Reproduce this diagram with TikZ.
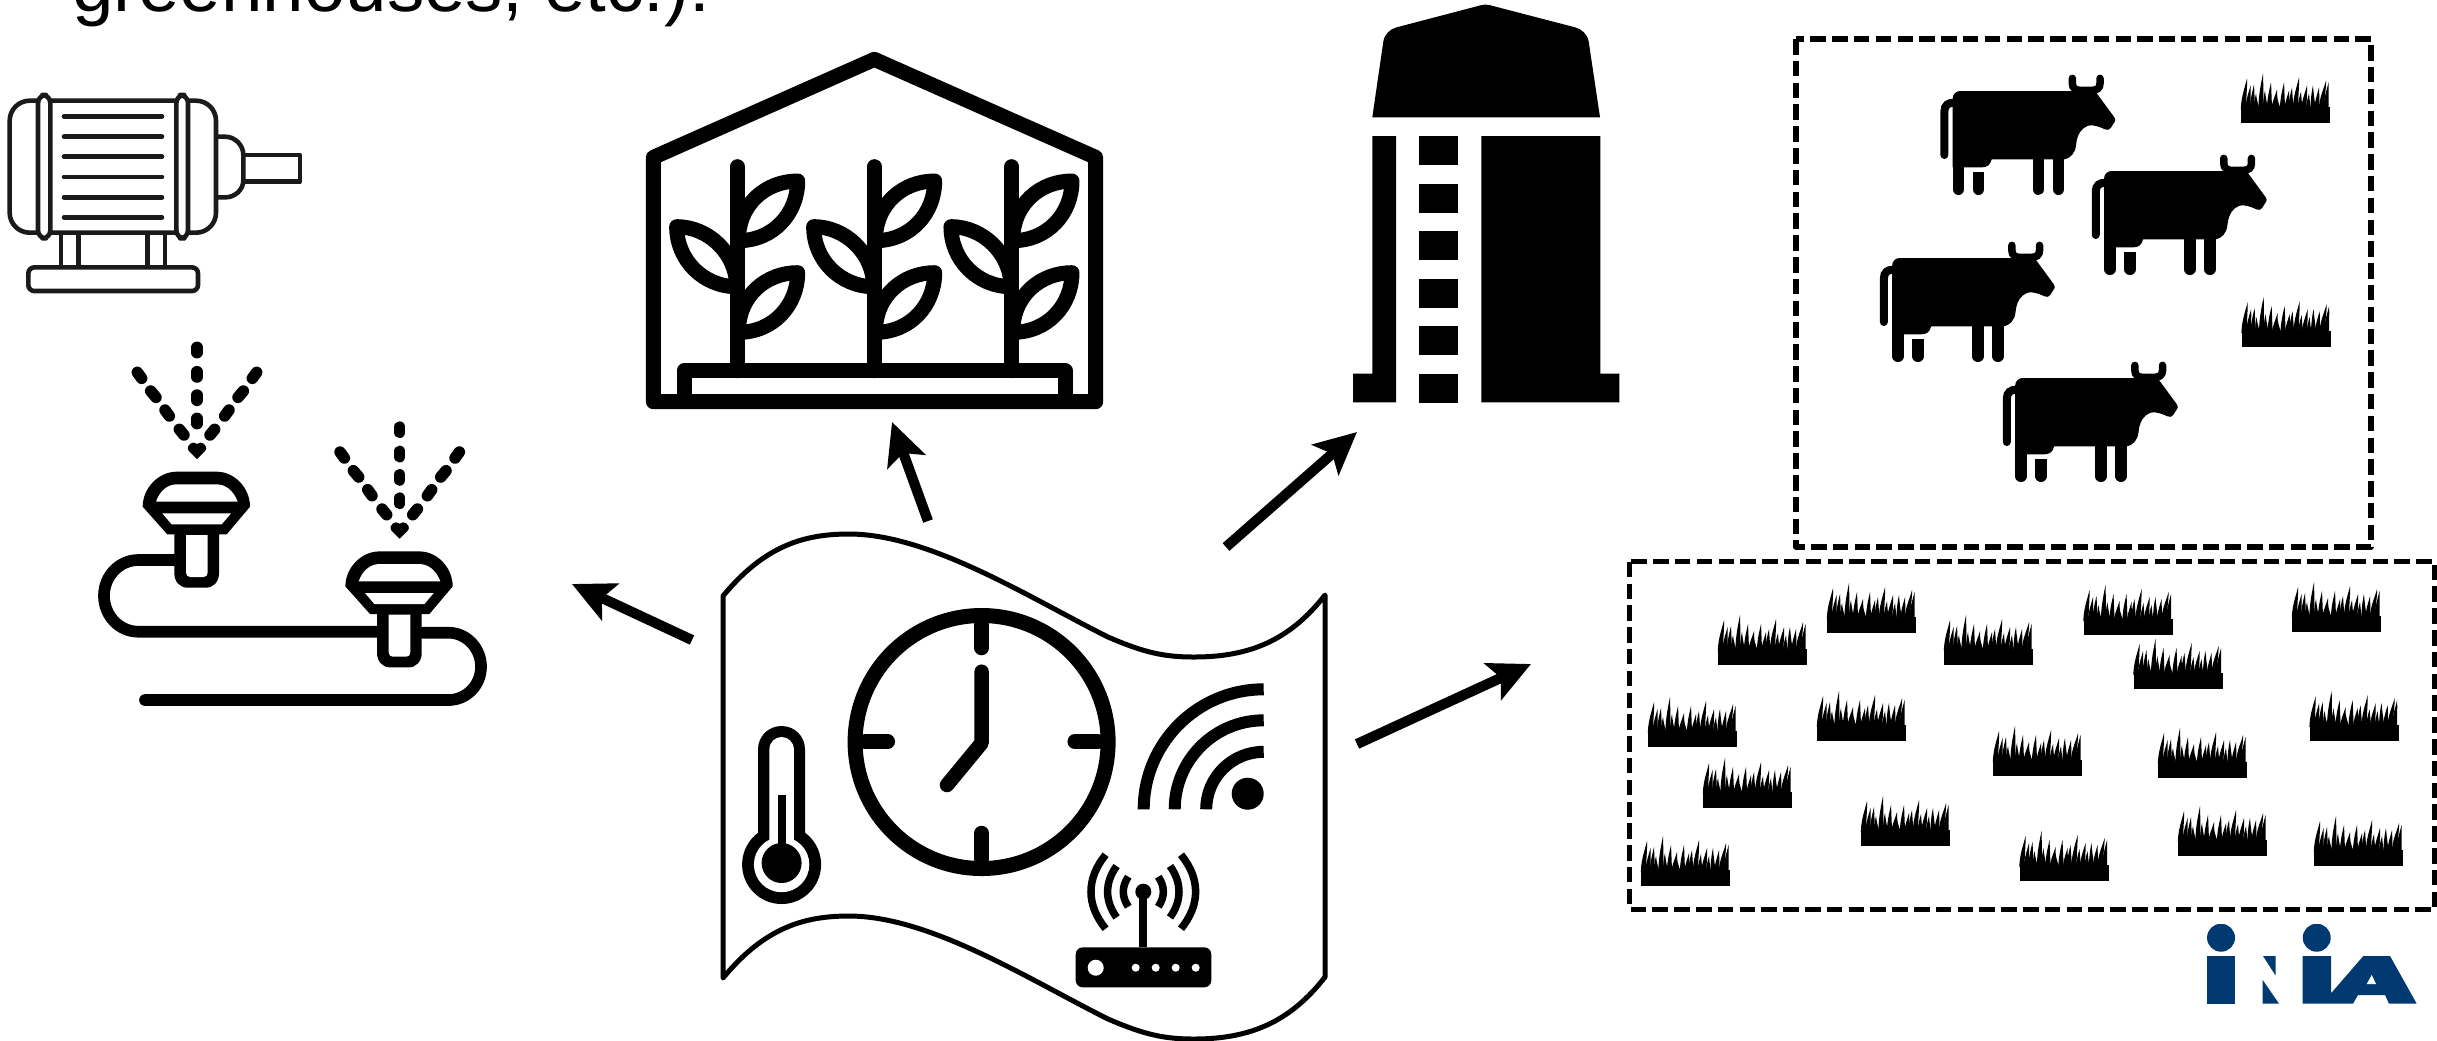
\documentclass[tikz,border=0pt]{standalone}
\usepackage{fontspec}
\setmainfont{Liberation Sans}
\usetikzlibrary{arrows.meta}
\definecolor{iniablue}{RGB}{0,58,112}
\definecolor{motorink}{RGB}{26,26,26}
\tikzset{
  flowarrow/.style={line width=1.02mm,-{Stealth[length=4.2mm,width=4mm,inset=.9mm]}},
  zonebox/.style={line width=.55mm,dash pattern=on 1.55mm off .63mm,line join=round},
  wave/.style={line width=.5mm,line join=round},
  motorline/.style={draw=motorink,line width=.46mm,line join=round},
  motorfin/.style={draw=motorink,line width=.46mm,line cap=round},
  zoomed/.style={x=.033333mm,y=-.033333mm},
  houseline/.style={line width=1.5mm,line join=round},
  stemline/.style={line width=1.5mm,line cap=round},
  dropline/.style={line width=1.15mm,line cap=round},
  hoseline/.style={line width=1.17mm,line cap=round},
  wifiarc/.style={line width=1.2mm},
  routerarc/.style={line width=.75mm},
  clockmark/.style={line width=1.45mm,line cap=round,line join=round},
}
\newcommand{\grassshape}{%
  \fill (0,0) rectangle (89,-16);
  \foreach \bx/\tx/\th in {2.5/6/45,7/9.5/38,11.5/13/39,16/15/30,20/22/50,24.5/24/33,28.5/30/41,33/36/34,37.5/36/28,41.5/43/41,46/48/33,50/51/36,54.5/58/46,59/60/32,63/66/38,67.5/68/30,72/72/38,76/78/36,80.5/85/43,85/87.5/41}{
    \fill (\bx-2.7,-14) .. controls (\bx-2.5,-.6*\th) and (\tx-1.4,-.85*\th) .. (\tx,-\th) .. controls (\tx+.4,-.8*\th) and (\bx+2.2,-.5*\th) .. (\bx+2.7,-14) -- cycle;
  }
}
\newcommand{\cowshape}{%
  \fill (158,115) .. controls (158,103) and (168,93) .. (180,93) -- (585,93) -- (643,172) .. controls (647,178) and (646,182) .. (644,185) -- (632,204) .. controls (628,210) and (622,211) .. (615,208) .. controls (590,196) and (565,190) .. (550,205) .. controls (535,218) and (530,235) .. (528,255) .. controls (526,280) and (510,295) .. (493,298) -- (275,298) .. controls (270,315) and (262,322) .. (245,322) -- (158,322) -- cycle;
  \draw[line width=1.17mm,line cap=round] (175.5,300) -- (175.5,387.5);
  \draw[line width=1.17mm,line cap=round] (415,290) -- (415,387.5);
  \draw[line width=1.17mm,line cap=round] (475.5,290) -- (475.5,387.5);
  \draw[line width=1.17mm,line cap=round] (235.5,355) -- (235.5,387.5);
  \fill (218,335) rectangle (253,360);
  \draw[line width=.75mm,line cap=round] (517,55) -- (517,70) .. controls (517,85) and (528,91) .. (540,91) -- (575,91) .. controls (590,91) and (600,85) .. (600,70) -- (600,55);
  \draw[line width=.8mm,line cap=round] (162,128) .. controls (145,128) and (133,135) .. (133,155) -- (133,285);
}
\newcommand{\sprinklerhead}{%
  \fill (188,560) .. controls (188,505) and (235,455) .. (290,455) -- (410,455) .. controls (465,455) and (510,505) .. (510,560) -- (440,643) -- (417,643) -- (417,760) .. controls (417,785) and (400,803) .. (378,803) -- (322,803) .. controls (300,803) and (283,785) .. (283,760) -- (283,643) -- (262,643) -- cycle;
  \fill[white] (228,545) .. controls (240,510) and (265,493) .. (290,493) -- (410,493) .. controls (435,493) and (460,510) .. (473,545) -- cycle;
  \fill[white] (247,580) -- (453,580) -- (425,613) -- (275,613) -- cycle;
  \fill[white] (318,645) -- (383,645) -- (383,758) .. controls (383,766) and (378,771) .. (370,771) -- (331,771) .. controls (323,771) and (318,766) .. (318,758) -- cycle;
  \draw[dropline] (351,82) -- (351,98) (351,155) -- (351,171) (351,225) -- (351,241) (351,295) -- (351,311);
  \draw[dropline] (172,157) -- (185,175) (212,213) -- (228,232) (255,270) -- (268,288) (298,328) -- (312,345);
  \draw[dropline] (530,157) -- (517,175) (490,213) -- (474,232) (447,270) -- (434,288) (404,328) -- (390,345);
  \fill (351,417) -- (326,392) .. controls (316,375) and (340,360) .. (351,372) .. controls (362,360) and (386,375) .. (376,392) -- cycle;
}
\newcommand{\plantshape}{%
  \draw[stemline] (352,410) -- (352,1022);
  \draw[houseline] (533,453) .. controls (440,453) and (355,520) .. (355,632) .. controls (460,632) and (533,550) .. (533,453) -- cycle;
  \draw[houseline] (533,728) .. controls (440,728) and (355,795) .. (355,907) .. controls (460,907) and (533,825) .. (533,728) -- cycle;
  \draw[houseline] (170,590) .. controls (170,690) and (250,770) .. (350,770) .. controls (350,670) and (265,590) .. (170,590) -- cycle;
}
\begin{document}
\begin{tikzpicture}[x=.1mm,y=-.1mm]
\useasboundingbox (0,0) rectangle (2437,1040);
\clip (0,0) rectangle (2437,1040);
\fill[white] (0,0) rectangle (2437,1040);

% cropped caption line
\node[anchor=base west,inner sep=0pt,font=\fontsize{21.2pt}{25pt}\selectfont] (caption) at (71.5,11) {greenhouses, etc.):};

% motor
\begin{scope}[zoomed]
  \draw[motorline,rounded corners=2mm] (29,302) rectangle (648,698);
  \draw[motorline,fill=white,rounded corners=.8mm] (114,285) rectangle (151,715);
  \draw[motorline,fill=white,rounded corners=.8mm] (529,285) rectangle (564,715);
  \foreach \fy in {349,410,470,531,592,652} \draw[motorfin] (192,\fy) -- (486,\fy);
  \draw[motorline] (648,410) -- (675,410) .. controls (705,410) and (730,435) .. (730,465) -- (730,540) .. controls (730,570) and (705,592) .. (675,592) -- (648,592);
  \draw[motorline] (730,465) -- (900,465) -- (900,545) -- (730,545);
  \foreach \lx in {183,236,442,495} \draw[motorline] (\lx,705) -- (\lx,802);
  \draw[motorline,rounded corners=.6mm] (85,802) rectangle (594,873);
\end{scope}

% sprinklers
\begin{scope}[shift={(80,320)},zoomed]
  \draw[hoseline] (290,720) -- (175,720) .. controls (118,720) and (72,768) .. (72,827) .. controls (72,887) and (118,935) .. (175,935) -- (900,935);
  \draw[hoseline] (1020,938) -- (1105,938) .. controls (1160,938) and (1203,985) .. (1203,1040) .. controls (1203,1095) and (1160,1140) .. (1105,1140) -- (195,1140);
  \sprinklerhead
  \begin{scope}[xshift=20.27mm,yshift=-7.97mm]
    \sprinklerhead
  \end{scope}
\end{scope}

% greenhouse
\begin{scope}[shift={(620,30)},zoomed]
  \draw[houseline] (100,1115) -- (100,382) -- (763,88) -- (1427,382) -- (1427,1115) -- cycle;
  \draw[houseline] (192,1115) -- (192,1022) -- (1335,1022) -- (1335,1115);
  \plantshape
  \begin{scope}[xshift=13.7mm]\plantshape\end{scope}
  \begin{scope}[xshift=27.43mm]\plantshape\end{scope}
\end{scope}

% silo
\fill (1372.3,117.3) -- (1383.3,41.7) .. controls (1384.5,34) and (1390,29) .. (1396.7,27.3) -- (1481,5.2) .. controls (1484,4.3) and (1487,4.3) .. (1490,5.2) -- (1575,27.3) .. controls (1581.5,29) and (1587.5,34) .. (1588.7,41.7) -- (1600,117.3) -- cycle;
\fill (1372.3,136) -- (1396,136) -- (1396,402.3) -- (1353,402.3) -- (1353,373.7) -- (1372.3,373.7) -- cycle;
\fill (1481.3,136) -- (1600.3,136) -- (1600.3,373.7) -- (1619.3,373.7) -- (1619.3,402.3) -- (1481.3,402.3) -- cycle;
\foreach \ry in {136,184,231,279,326,374} \fill (1419,\ry) rectangle (1458,\ry+29);

% flag panel
\draw[wave] (723,596) .. controls (765,545) and (805,534) .. (849,534) .. controls (930,534) and (1030,598) .. (1108,637) .. controls (1145,653) and (1165,657) .. (1194,657) .. controls (1250,657) and (1290,640) .. (1325,595) -- (1325,977) .. controls (1290,1022) and (1250,1039) .. (1194,1039) .. controls (1165,1039) and (1145,1035) .. (1108,1019) .. controls (1030,980) and (930,916) .. (849,916) .. controls (805,916) and (765,927) .. (723,978) -- cycle;

% clock
\draw[line width=1.5mm] (981.6,742) circle [radius=12.65mm];
\draw[clockmark] (981.6,625) -- (981.6,648) (981.6,859) -- (981.6,833) (865,741.7) -- (887.8,741.7) (1098,741.7) -- (1074.7,741.7);
\draw[clockmark] (981.6,671.7) -- (981.6,743) -- (947,785);

% thermometer
\fill (781.6,864.5) circle [radius=3.95mm];
\fill (758,749.5) .. controls (758,736) and (768.5,726) .. (781.6,726) .. controls (794.5,726) and (805,736) .. (805,749.5) -- (805,850) -- (758,850) -- cycle;
\fill[white] (781.6,864.5) circle [radius=2.77mm];
\fill[white] (769.4,749.5) .. controls (769.4,742) and (775,737) .. (781.6,737) .. controls (788,737) and (793.9,742) .. (793.9,749.5) -- (793.9,850) -- (769.4,850) -- cycle;
\fill (781.6,863) circle [radius=2mm];
\fill (777.5,795) rectangle (785.7,850);

% wifi
\fill (1247.7,793.7) circle [radius=1.6mm];
\draw[wifiarc] (1143.7,809.3) .. controls (1143.7,743) and (1197.4,689.3) .. (1263.7,689.3);
\draw[wifiarc] (1174.7,809.3) .. controls (1174.7,760.1) and (1214.5,720.3) .. (1263.7,720.3);
\draw[wifiarc] (1206.2,809.3) .. controls (1206.2,777.5) and (1231.9,751.8) .. (1263.7,751.8);

% router
\fill[rounded corners=.7mm] (1075.7,947.3) rectangle (1211.3,987.3);
\fill[white] (1095.7,967.7) circle [radius=.8mm];
\foreach \hx in {1135.7,1155.7,1175.7,1195.7} \fill[white] (\hx,967.7) circle [radius=.4mm];
\fill (1143.3,891.7) circle [radius=.8mm];
\draw[line width=.77mm] (1143.3,891.7) -- (1143.3,947.3);
\foreach \s in {1,-1}{
\begin{scope}[shift={(1143.3,891.7)},xscale=\s]
  \draw[routerarc] (-15,-15) .. controls (-21.7,-5) and (-21.7,5) .. (-15,15);
  \draw[routerarc] (-26.7,-25.7) .. controls (-38.7,-9) and (-38.7,9) .. (-26.7,25.7);
  \draw[routerarc] (-37.7,-37) .. controls (-57.2,-13) and (-57.2,13) .. (-37.7,37);
\end{scope}}

% pasture boxes
\draw[zonebox] (1795.8,39) rectangle (2371,547);
\draw[zonebox] (1629.4,561.7) rectangle (2435,909.3);

% cows
\foreach \cx/\cy in {0/0,151.4/80,-60.5/167,62.5/287}{
\begin{scope}[shift={(1900+\cx,60+\cy)},zoomed]\cowshape\end{scope}}

% grass
\foreach \gx/\gy in {2241/123.4,2241.6/347,1718/665,1827/633,1944/665,2083.5/635,2133.5/689,2292/632,1648/747,1817/741,1993/776,2158/778,2309.6/741,1703/808,1861/846,1641/886,2019.5/881,2178/856,2314/866}{
\begin{scope}[shift={(\gx,\gy)}]\grassshape\end{scope}}

% arrows
\coordinate (irrigTail) at (692,640);
\coordinate (irrigHead) at (572,584);
\coordinate (houseTail) at (928,521);
\coordinate (houseHead) at (892,422);
\coordinate (siloTail) at (1226,547);
\coordinate (siloHead) at (1357,432);
\coordinate (fieldTail) at (1357,744);
\coordinate (fieldHead) at (1531,664);
\draw[flowarrow] (irrigTail) -- (irrigHead);
\draw[flowarrow] (houseTail) -- (houseHead);
\draw[flowarrow] (siloTail) -- (siloHead);
\draw[flowarrow] (fieldTail) -- (fieldHead);

% logo
\begin{scope}[iniablue]
\fill (2221,937.7) circle [radius=1.4mm];
\fill (2316.7,937.7) circle [radius=1.4mm];
\fill[white] (2200,915) rectangle (2340,924);
\fill (2207,956) rectangle (2235,1003.7);
\fill (2263,956) -- (2275.7,956) -- (2275.7,975.7) -- cycle;
\fill (2262.7,980) -- (2262.7,1003.7) -- (2279,1003.7) -- cycle;
\fill (2302.7,956) -- (2331,956) -- (2331,993.3) -- (2363.3,956) -- (2390,956) -- (2416.7,1003.7) -- (2389,1003.7) -- (2385,995) -- (2358,995) -- (2353,1003.7) -- (2302.7,1003.7) -- cycle;
\fill[white] (2371.7,975) -- (2366.7,984) -- (2376,984) -- cycle;
\end{scope}
\end{tikzpicture}
\end{document}
